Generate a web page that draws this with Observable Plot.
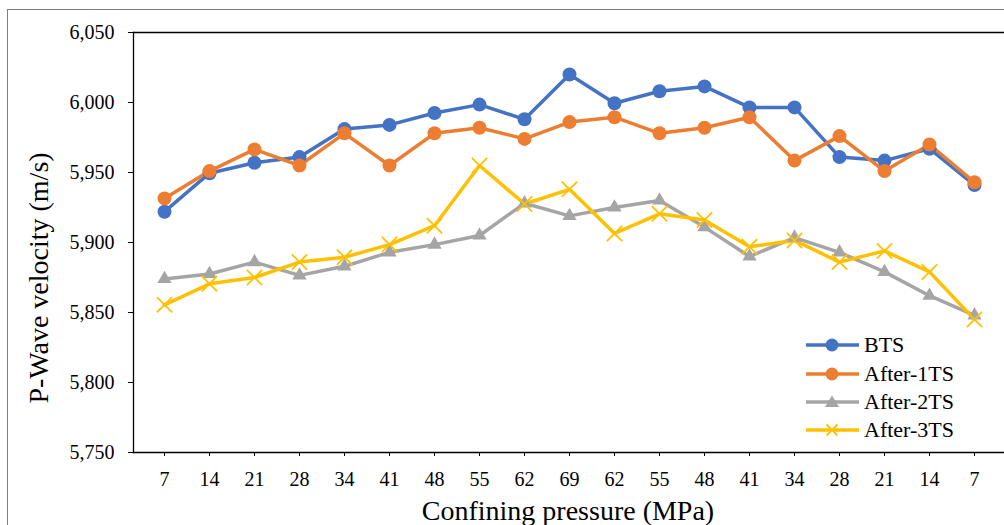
<!DOCTYPE html>
<html>
<head>
<meta charset="utf-8">
<script src="https://cdn.jsdelivr.net/npm/d3@7"></script>
<script src="https://cdn.jsdelivr.net/npm/@observablehq/plot@0.6"></script>
<style>
  html, body { margin: 0; padding: 0; background: #fff; }
  #wrap { position: relative; width: 1004px; height: 525px; overflow: hidden; font-family: "Liberation Serif", "DejaVu Serif", serif; color: #000; }
  #border { position: absolute; left: 7px; top: 9px; width: 1100px; height: 600px; border-left: 1.5px solid #7f7f7f; border-top: 1.5px solid #7f7f7f; }
  #chart { position: absolute; left: 0; top: 0; }
  #chart svg text { font-family: "Liberation Serif", "DejaVu Serif", serif; }
  #legend { position: absolute; left: 806px; top: 331px; font-size: 22px; }
  .row { display: flex; align-items: center; height: 28.4px; }
  .row svg { margin-right: 5px; }
  .title { position: absolute; font-size: 28px; white-space: nowrap; line-height: 1; }
  #ytitle { left: 39px; top: 278px; transform: translate(-50%, -50%) rotate(-90deg); }
  #xtitle { left: 568px; top: 511px; transform: translate(-50%, -50%); }
</style>
</head>
<body>
<div id="wrap">
  <div id="border"></div>
  <div id="chart"></div>
  <div id="legend"></div>
  <div id="ytitle" class="title"></div>
  <div id="xtitle" class="title"></div>
</div>
<script>
const xLabels = ["7","14","21","28","34","41","48","55","62","69","62","55","48","41","34","28","21","14","7"];
const seriesNames = ["BTS", "After-1TS", "After-2TS", "After-3TS"];
const bts    = [5922,5949.5,5957,5961,5981,5984,5992.5,5998.5,5988,6020,5999.5,6008,6011.5,5996.5,5996.5,5961,5958.5,5967,5941];
const after1 = [5931.5,5951,5966.5,5955,5978,5955,5978,5982,5974,5986,5989.5,5978,5982,5989.5,5958.5,5976,5951,5970,5943];
const after2 = [5874,5877.5,5886,5876.5,5883,5893,5898.5,5905,5928,5919,5925,5930,5911,5890,5903.5,5893,5879,5862,5848];
const after3 = [5855.5,5870.5,5875,5886,5889.5,5898.5,5912,5955,5927.5,5938,5906.5,5920.5,5916,5897,5901.5,5886,5894,5879,5845];
const yTicks = [5750,5800,5850,5900,5950,6000,6050];
const yTitle = "P-Wave velocity (m/s)";
const xTitle = "Confining pressure (MPa)";
const colors = ["#4472C4", "#ED7D31", "#A5A5A5", "#FFC000"];
const symbols = ["circle", "circle", "triangle", "times"];

const allSeries = [bts, after1, after2, after3];
const data = [];
allSeries.forEach((vals, s) => vals.forEach((v, i) => data.push({series: seriesNames[s], i, v})));
const idx = xLabels.map((_, i) => i);

const font = "Liberation Serif";
const marks = [
  Plot.frame({stroke: "#d9d9d9"}),
  Plot.ruleY([6050], {stroke: "black", strokeWidth: 1.3}),
  Plot.axisY({ticks: yTicks, tickFormat: d3.format(","), tickSize: 5, tickPadding: 14, fontSize: 20, label: null, stroke: "black", fill: "black"}),
  Plot.axisX({tickFormat: i => xLabels[i], tickSize: 4, tickPadding: 15, fontSize: 20, label: null, stroke: "black", fill: "black"}),
  Plot.frame({anchor: "left", stroke: "black", strokeWidth: 1.3}),
  Plot.frame({anchor: "bottom", stroke: "black", strokeWidth: 1.3}),
];
seriesNames.forEach((name, s) => {
  const d = data.filter(r => r.series === name);
  marks.push(Plot.line(d, {x: "i", y: "v", stroke: colors[s], strokeWidth: 3.5}));
});
seriesNames.forEach((name, s) => {
  const d = data.filter(r => r.series === name);
  if (symbols[s] === "circle") marks.push(Plot.dot(d, {x: "i", y: "v", r: 7, fill: colors[s], stroke: "none"}));
  else if (symbols[s] === "triangle") marks.push(Plot.dot(d, {x: "i", y: "v", r: 5.3, symbol: "triangle", fill: colors[s], stroke: "none"}));
  else marks.push(Plot.dot(d, {x: "i", y: "v", r: 7, symbol: "times", stroke: colors[s], strokeWidth: 1.8}));
});

const chart = Plot.plot({
  width: 1004,
  height: 525,
  marginLeft: 133,
  marginTop: 32,
  marginRight: 0,
  marginBottom: 73,
  style: {background: "transparent", fontFamily: font, overflow: "visible"},
  x: {type: "point", domain: idx, padding: 0.5, axis: null},
  y: {domain: [5750, 6050], axis: null},
  marks
});
document.getElementById("chart").appendChild(chart);

document.getElementById("ytitle").textContent = yTitle;
document.getElementById("xtitle").textContent = xTitle;

const legend = document.getElementById("legend");
seriesNames.forEach((name, s) => {
  const row = document.createElement("div");
  row.className = "row";
  let marker;
  if (symbols[s] === "circle") marker = `<circle cx="26" cy="10" r="6.5" fill="${colors[s]}"/>`;
  else if (symbols[s] === "triangle") marker = `<path d="M26,3.5 L33,15 L19,15 Z" fill="${colors[s]}"/>`;
  else marker = `<path d="M20.5,4.5 L31.5,15.5 M31.5,4.5 L20.5,15.5" stroke="${colors[s]}" stroke-width="1.8"/>`;
  row.innerHTML = `<svg width="53" height="20"><line x1="0" y1="10" x2="53" y2="10" stroke="${colors[s]}" stroke-width="3.5"/>${marker}</svg><span>${name}</span>`;
  legend.appendChild(row);
});
</script>
</body>
</html>
